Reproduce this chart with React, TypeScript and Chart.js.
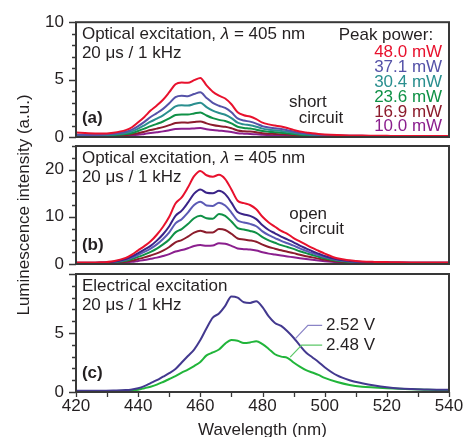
import React, { useEffect, useRef } from 'react';
import { Chart, registerables } from 'chart.js';
Chart.register(...registerables);

// ---------- data ----------
const WAVELENGTHS = [
  420, 424, 428, 432, 436,
  438, 440, 442, 444, 446, 448, 450, 452, 454, 456,
  458, 460, 462, 464, 466, 468, 470, 472, 474, 476,
  478, 480, 482, 484, 486, 488, 490, 492, 494, 496,
  498, 500,
  504, 508, 512, 516, 520, 524, 528, 532, 536, 540,
];

// (a) short circuit
const A_480 = [0.40, 0.33, 0.30, 0.38, 0.60,
  0.85, 1.28, 1.75, 2.30, 2.75, 3.25, 3.90, 4.60, 4.75, 4.72,
  4.95, 5.15, 4.50, 3.95, 3.60, 3.35, 2.85, 2.15, 1.90, 1.78,
  1.55, 1.25, 1.10, 1.00, 0.92, 0.78, 0.62, 0.48, 0.40, 0.32,
  0.26, 0.22,
  0.17, 0.14, 0.12, 0.11, 0.10, 0.09, 0.09, 0.08, 0.08, 0.08];
const A_371 = [0.20, 0.18, 0.20, 0.28, 0.45,
  0.64, 0.95, 1.32, 1.74, 2.08, 2.45, 2.94, 3.47, 3.59, 3.56,
  3.74, 3.89, 3.40, 2.98, 2.72, 2.53, 2.15, 1.62, 1.43, 1.34,
  1.17, 0.94, 0.83, 0.76, 0.69, 0.59, 0.47, 0.36, 0.30, 0.24,
  0.20, 0.17,
  0.13, 0.11, 0.10, 0.09, 0.08, 0.08, 0.07, 0.07, 0.07, 0.07];
const A_304 = [0.17, 0.15, 0.16, 0.22, 0.35,
  0.49, 0.73, 1.02, 1.33, 1.60, 1.89, 2.26, 2.67, 2.76, 2.74,
  2.87, 2.99, 2.61, 2.29, 2.09, 1.94, 1.65, 1.25, 1.10, 1.03,
  0.90, 0.73, 0.64, 0.58, 0.53, 0.45, 0.36, 0.28, 0.23, 0.19,
  0.15, 0.13,
  0.10, 0.09, 0.08, 0.07, 0.07, 0.06, 0.06, 0.06, 0.06, 0.06];
const A_236 = [0.13, 0.12, 0.13, 0.17, 0.25,
  0.35, 0.52, 0.73, 0.95, 1.14, 1.35, 1.62, 1.91, 1.97, 1.96,
  2.05, 2.14, 1.87, 1.64, 1.49, 1.39, 1.18, 0.89, 0.79, 0.74,
  0.64, 0.52, 0.46, 0.42, 0.38, 0.32, 0.26, 0.20, 0.17, 0.13,
  0.11, 0.09,
  0.07, 0.06, 0.05, 0.05, 0.05, 0.05, 0.05, 0.05, 0.05, 0.05];
const A_169 = [0.10, 0.09, 0.10, 0.12, 0.16,
  0.23, 0.33, 0.46, 0.61, 0.73, 0.86, 1.03, 1.22, 1.26, 1.25,
  1.31, 1.36, 1.19, 1.05, 0.95, 0.89, 0.76, 0.57, 0.50, 0.47,
  0.41, 0.33, 0.29, 0.27, 0.24, 0.21, 0.16, 0.13, 0.11, 0.08,
  0.07, 0.06,
  0.05, 0.05, 0.04, 0.04, 0.04, 0.04, 0.04, 0.04, 0.04, 0.04];
const A_100 = [0.07, 0.06, 0.07, 0.08, 0.09,
  0.13, 0.19, 0.27, 0.35, 0.42, 0.49, 0.59, 0.70, 0.72, 0.72,
  0.75, 0.78, 0.68, 0.60, 0.55, 0.51, 0.43, 0.33, 0.29, 0.27,
  0.24, 0.19, 0.17, 0.15, 0.14, 0.12, 0.09, 0.07, 0.06, 0.05,
  0.04, 0.04,
  0.03, 0.03, 0.03, 0.03, 0.03, 0.03, 0.03, 0.03, 0.03, 0.03];

// (b) open circuit
const B_480 = [0.30, 0.30, 0.35, 0.60, 1.30,
  2.00, 2.90, 3.80, 4.80, 6.20, 7.90, 10.0, 12.8, 14.1, 16.2,
  18.6, 19.7, 18.8, 18.5, 18.9, 18.0, 15.8, 13.4, 12.9, 12.5,
  11.6, 10.0, 8.80, 7.90, 7.00, 6.40, 5.50, 4.80, 4.10, 3.40,
  2.80, 2.20,
  1.20, 0.80, 0.55, 0.45, 0.40, 0.35, 0.32, 0.30, 0.30, 0.30];
const B_371 = [0.25, 0.25, 0.30, 0.50, 1.05,
  1.60, 2.30, 3.05, 3.85, 4.95, 6.30, 8.00, 10.2, 11.3, 13.0,
  14.9, 15.8, 15.1, 15.0, 15.5, 14.8, 13.0, 11.0, 10.5, 10.2,
  9.50, 8.20, 7.20, 6.50, 5.80, 5.20, 4.60, 3.90, 3.30, 2.70,
  2.20, 1.70,
  1.00, 0.65, 0.45, 0.38, 0.33, 0.30, 0.28, 0.27, 0.27, 0.27];
const B_304 = [0.22, 0.22, 0.27, 0.42, 0.88,
  1.35, 1.95, 2.55, 3.25, 4.15, 5.30, 6.70, 8.60, 9.50, 10.9,
  12.5, 13.2, 12.4, 12.3, 13.0, 12.4, 10.9, 9.20, 8.80, 8.50,
  8.00, 6.90, 6.10, 5.50, 4.90, 4.40, 3.90, 3.30, 2.80, 2.30,
  1.90, 1.45,
  0.85, 0.55, 0.40, 0.33, 0.29, 0.26, 0.25, 0.24, 0.24, 0.24];
const B_236 = [0.18, 0.18, 0.22, 0.34, 0.68,
  1.05, 1.50, 2.00, 2.55, 3.25, 4.15, 5.20, 6.70, 7.40, 8.45,
  9.70, 10.2, 9.70, 9.60, 10.6, 10.2, 9.00, 7.60, 7.30, 7.00,
  6.60, 5.70, 5.00, 4.50, 4.00, 3.60, 3.20, 2.70, 2.30, 1.90,
  1.55, 1.20,
  0.70, 0.45, 0.33, 0.28, 0.25, 0.23, 0.22, 0.21, 0.21, 0.21];
const B_169 = [0.14, 0.14, 0.17, 0.25, 0.48,
  0.72, 1.05, 1.40, 1.80, 2.25, 2.85, 3.60, 4.60, 5.05, 5.80,
  6.65, 7.05, 6.70, 6.70, 7.40, 7.20, 6.40, 5.40, 5.20, 5.00,
  4.70, 4.10, 3.60, 3.25, 2.90, 2.60, 2.30, 1.95, 1.65, 1.40,
  1.15, 0.90,
  0.55, 0.36, 0.27, 0.23, 0.21, 0.20, 0.19, 0.18, 0.18, 0.18];
const B_100 = [0.10, 0.10, 0.12, 0.17, 0.32,
  0.45, 0.65, 0.85, 1.10, 1.35, 1.70, 2.10, 2.65, 2.95, 3.35,
  3.80, 4.00, 3.85, 3.90, 4.40, 4.30, 3.85, 3.30, 3.15, 3.05,
  2.85, 2.50, 2.20, 2.00, 1.80, 1.60, 1.42, 1.22, 1.04, 0.88,
  0.73, 0.58,
  0.36, 0.25, 0.19, 0.16, 0.15, 0.14, 0.14, 0.13, 0.13, 0.13];

// (c) electrical excitation
const C_252 = [0.10, 0.10, 0.10, 0.12, 0.16,
  0.22, 0.32, 0.50, 0.75, 1.00, 1.30, 1.60, 1.95, 2.50, 3.05,
  3.60, 4.40, 5.40, 6.30, 6.65, 7.30, 8.10, 8.00, 7.60, 7.55,
  7.70, 7.20, 6.40, 5.85, 5.60, 5.15, 4.60, 3.95, 3.35, 2.95,
  2.55, 2.10,
  1.40, 1.00, 0.75, 0.55, 0.40, 0.30, 0.25, 0.22, 0.20, 0.20];
const C_248 = [0.05, 0.05, 0.06, 0.08, 0.10,
  0.14, 0.20, 0.32, 0.45, 0.62, 0.85, 1.10, 1.35, 1.65, 1.90,
  2.20, 2.55, 3.10, 3.35, 3.60, 4.10, 4.40, 4.35, 4.15, 4.20,
  4.30, 4.05, 3.65, 3.20, 3.00, 2.90, 2.50, 2.15, 1.85, 1.65,
  1.45, 1.20,
  0.85, 0.60, 0.45, 0.38, 0.32, 0.28, 0.23, 0.20, 0.17, 0.15];

const POWER_LABELS = ['48.0 mW', '37.1 mW', '30.4 mW', '23.6 mW', '16.9 mW', '10.0 mW'];
const VOLT_LABELS = ['2.52 V', '2.48 V'];

const X_TICKS = [420, 440, 460, 480, 500, 520, 540];
const X_MINOR = [430, 450, 470, 490, 510, 530];
const A_TICKS = [0, 5, 10];
const A_MINOR = [1, 2, 3, 4, 6, 7, 8, 9];
const B_TICKS = [0, 10, 20];
const B_MINOR = [2.5, 5, 7.5, 12.5, 15, 17.5, 22.5, 25];
const C_TICKS = [0, 5];
const C_MAJOR_NOLABEL = [10];
const C_MINOR = [1, 2, 3, 4, 6, 7, 8, 9];

// ---------- style ----------
const FONT = "'Liberation Sans', Arial, Helvetica, sans-serif";
const TEXT = '#231f20';
const AXIS = '#383838';
const RED = '#e8112d';
const A_COLORS = [RED, '#5552a8', '#2a8f8f', '#0f9146', '#8c1c2c', '#8b1f8e'];
const B_COLORS = [RED, '#3a2388', '#5b5ab5', '#0f9146', '#8c1c2c', '#8b1f8e'];
const C_COLORS = ['#43398f', '#21b53a'];

type Seg = { t: string; italic?: boolean; bold?: boolean; color?: string };
type Note = { x: number; y: number; segs: Seg[]; align?: 'left' | 'right' };
type Leader = { pts: [number, number][]; color: string };
type Panel = {
  series: { values: number[]; color: string }[];
  yMax: number;
  yTicks: number[];
  yMajorExtra?: number[];
  yMinor: number[];
  padTop: number;
  padBottom: number;
  showX: boolean;
  yTitle?: string;
  notes: Note[];
  leaders?: Leader[];
};

const headerOptical: Seg[] = [{ t: 'Optical excitation, ' }, { t: 'λ', italic: true }, { t: ' = 405 nm' }];
const LEG_Y = [7.35, 6.05, 4.76, 3.47, 2.18, 0.89];

const PANEL_A: Panel = {
  series: [A_480, A_371, A_304, A_236, A_169, A_100].map((v, i) => ({ values: v, color: A_COLORS[i] })),
  yMax: 10,
  yTicks: A_TICKS,
  yMinor: A_MINOR,
  padTop: 19,
  padBottom: 300,
  showX: false,
  notes: [
    { x: 421.9, y: 8.95, segs: headerOptical },
    { x: 421.9, y: 7.3, segs: [{ t: '20 μs / 1 kHz' }] },
    { x: 421.9, y: 1.6, segs: [{ t: '(a)', bold: true }] },
    { x: 534.9, y: 8.85, segs: [{ t: 'Peak power:' }], align: 'right' },
    ...POWER_LABELS.map((t, i) => ({ x: 537.8, y: LEG_Y[i], segs: [{ t, color: A_COLORS[i] }], align: 'right' as const })),
    { x: 488.5, y: 3.05, segs: [{ t: 'short' }] },
    { x: 491.7, y: 1.65, segs: [{ t: 'circuit' }] },
  ],
};

const PANEL_B: Panel = {
  series: [B_480, B_371, B_304, B_236, B_169, B_100].map((v, i) => ({ values: v, color: B_COLORS[i] })),
  yMax: 25,
  yTicks: B_TICKS,
  yMinor: B_MINOR,
  padTop: 146,
  padBottom: 173,
  showX: false,
  yTitle: 'Luminescence intensity (a.u.)',
  notes: [
    { x: 421.9, y: 22.3, segs: headerOptical },
    { x: 421.9, y: 18.4, segs: [{ t: '20 μs / 1 kHz' }] },
    { x: 421.9, y: 3.9, segs: [{ t: '(b)', bold: true }] },
    { x: 488.6, y: 10.6, segs: [{ t: 'open' }] },
    { x: 491.9, y: 7.4, segs: [{ t: 'circuit' }] },
  ],
};

const PANEL_C: Panel = {
  series: [C_252, C_248].map((v, i) => ({ values: v, color: C_COLORS[i] })),
  yMax: 10,
  yTicks: C_TICKS,
  yMajorExtra: C_MAJOR_NOLABEL,
  yMinor: C_MINOR,
  padTop: 274,
  padBottom: 0,
  showX: true,
  notes: [
    { x: 421.9, y: 8.92, segs: [{ t: 'Electrical excitation' }] },
    { x: 421.9, y: 7.31, segs: [{ t: '20 μs / 1 kHz' }] },
    { x: 421.9, y: 1.58, segs: [{ t: '(c)', bold: true }] },
    { x: 500.4, y: 5.65, segs: [{ t: VOLT_LABELS[0] }] },
    { x: 500.4, y: 3.98, segs: [{ t: VOLT_LABELS[1] }] },
  ],
  leaders: [
    { pts: [[490.5, 4.5], [494.6, 5.65], [499.2, 5.65]], color: '#8a84c6' },
    { pts: [[488.9, 2.95], [492.6, 3.98], [499.2, 3.98]], color: '#5cc868' },
  ],
};

function fontStr(s: Seg, size = 17) {
  return `${s.italic ? 'italic ' : ''}${s.bold ? 'bold ' : ''}${size}px ${FONT}`;
}

function makeDecor(p: Panel) {
  return {
    id: 'decor',
    afterDraw(chart: any) {
      const { ctx, chartArea: ca, scales } = chart;
      const xs = scales.x;
      const ys = scales.y;
      ctx.save();
      // leader lines
      (p.leaders || []).forEach((l) => {
        ctx.beginPath();
        ctx.strokeStyle = l.color;
        ctx.lineWidth = 1.2;
        l.pts.forEach(([x, y], i) => {
          const px = xs.getPixelForValue(x);
          const py = ys.getPixelForValue(y);
          if (i === 0) ctx.moveTo(px, py);
          else ctx.lineTo(px, py);
        });
        ctx.stroke();
      });
      // frame
      ctx.strokeStyle = AXIS;
      ctx.lineWidth = 2;
      ctx.strokeRect(ca.left, ca.top, ca.right - ca.left, ca.bottom - ca.top);
      // y ticks
      ctx.lineWidth = 1.3;
      ctx.beginPath();
      [...p.yTicks, ...(p.yMajorExtra || [])].forEach((v) => {
        const py = Math.round(ys.getPixelForValue(v)) + 0.5;
        ctx.moveTo(ca.left - 7, py);
        ctx.lineTo(ca.left, py);
      });
      p.yMinor.forEach((v) => {
        const py = Math.round(ys.getPixelForValue(v)) + 0.5;
        ctx.moveTo(ca.left - 4, py);
        ctx.lineTo(ca.left, py);
      });
      if (p.showX) {
        [...X_TICKS, ...X_MINOR].forEach((v) => {
          const px = Math.round(xs.getPixelForValue(v)) + 0.5;
          ctx.moveTo(px, ca.bottom);
          ctx.lineTo(px, ca.bottom + 5);
        });
      }
      ctx.stroke();
      // notes
      ctx.textBaseline = 'middle';
      ctx.textAlign = 'left';
      p.notes.forEach((n) => {
        const px = xs.getPixelForValue(n.x);
        const py = ys.getPixelForValue(n.y);
        const widths = n.segs.map((s) => {
          ctx.font = fontStr(s);
          return ctx.measureText(s.t).width;
        });
        const total = widths.reduce((a, b) => a + b, 0);
        let x = n.align === 'right' ? px - total : px;
        n.segs.forEach((s, i) => {
          ctx.font = fontStr(s);
          ctx.fillStyle = s.color || TEXT;
          ctx.fillText(s.t, x, py);
          x += widths[i];
        });
      });
      ctx.restore();
    },
  };
}

function makeChart(canvas: HTMLCanvasElement, p: Panel) {
  return new Chart(canvas, {
    type: 'line',
    data: {
      datasets: p.series.map((s) => ({
        data: WAVELENGTHS.map((w, i) => ({ x: w, y: s.values[i] })),
        borderColor: s.color,
        borderWidth: 2,
        pointRadius: 0,
        fill: false,
        cubicInterpolationMode: 'monotone' as const,
      })),
    },
    options: {
      animation: false,
      responsive: false,
      events: [],
      layout: { padding: { left: 0, right: 19, top: p.padTop, bottom: p.padBottom } },
      plugins: { legend: { display: false }, tooltip: { enabled: false } },
      scales: {
        x: {
          type: 'linear',
          min: 420,
          max: 540,
          display: p.showX,
          afterFit: (s: any) => { s.height = p.showX ? 45 : 0; },
          afterBuildTicks: (s: any) => { s.ticks = X_TICKS.map((v) => ({ value: v })); },
          grid: { display: false, drawTicks: false },
          border: { display: false },
          ticks: { font: { family: FONT, size: 17 }, color: TEXT, padding: 4, maxRotation: 0, autoSkip: false },
          title: {
            display: true,
            text: 'Wavelength (nm)',
            font: { family: FONT, size: 17, lineHeight: 0.75 },
            color: TEXT,
            padding: { top: 0, bottom: 0 },
          },
        },
        y: {
          type: 'linear',
          min: 0,
          max: p.yMax,
          afterFit: (s: any) => { s.width = 76; },
          afterBuildTicks: (s: any) => { s.ticks = p.yTicks.map((v) => ({ value: v })); },
          grid: { display: false, drawTicks: false },
          border: { display: false },
          ticks: { font: { family: FONT, size: 17 }, color: TEXT, padding: 12 },
          title: {
            display: !!p.yTitle,
            text: p.yTitle || '',
            font: { family: FONT, size: 17, lineHeight: 1 },
            color: TEXT,
            padding: { top: 16, bottom: 0 },
          },
        },
      },
    },
    plugins: [makeDecor(p)],
  } as any);
}

export default function App() {
  const refA = useRef<HTMLCanvasElement>(null);
  const refB = useRef<HTMLCanvasElement>(null);
  const refC = useRef<HTMLCanvasElement>(null);
  useEffect(() => {
    const charts = [
      makeChart(refA.current!, PANEL_A),
      makeChart(refB.current!, PANEL_B),
      makeChart(refC.current!, PANEL_C),
    ];
    return () => charts.forEach((c) => c.destroy());
  }, []);
  const cs: React.CSSProperties = { position: 'absolute', left: 0, top: 0, width: 468, height: 437 };
  return (
    <div style={{ position: 'fixed', left: 0, top: 0, width: 468, height: 437, overflow: 'hidden', background: '#fff' }}>
      <canvas ref={refA} width={468} height={437} style={cs} />
      <canvas ref={refB} width={468} height={437} style={cs} />
      <canvas ref={refC} width={468} height={437} style={cs} />
    </div>
  );
}
